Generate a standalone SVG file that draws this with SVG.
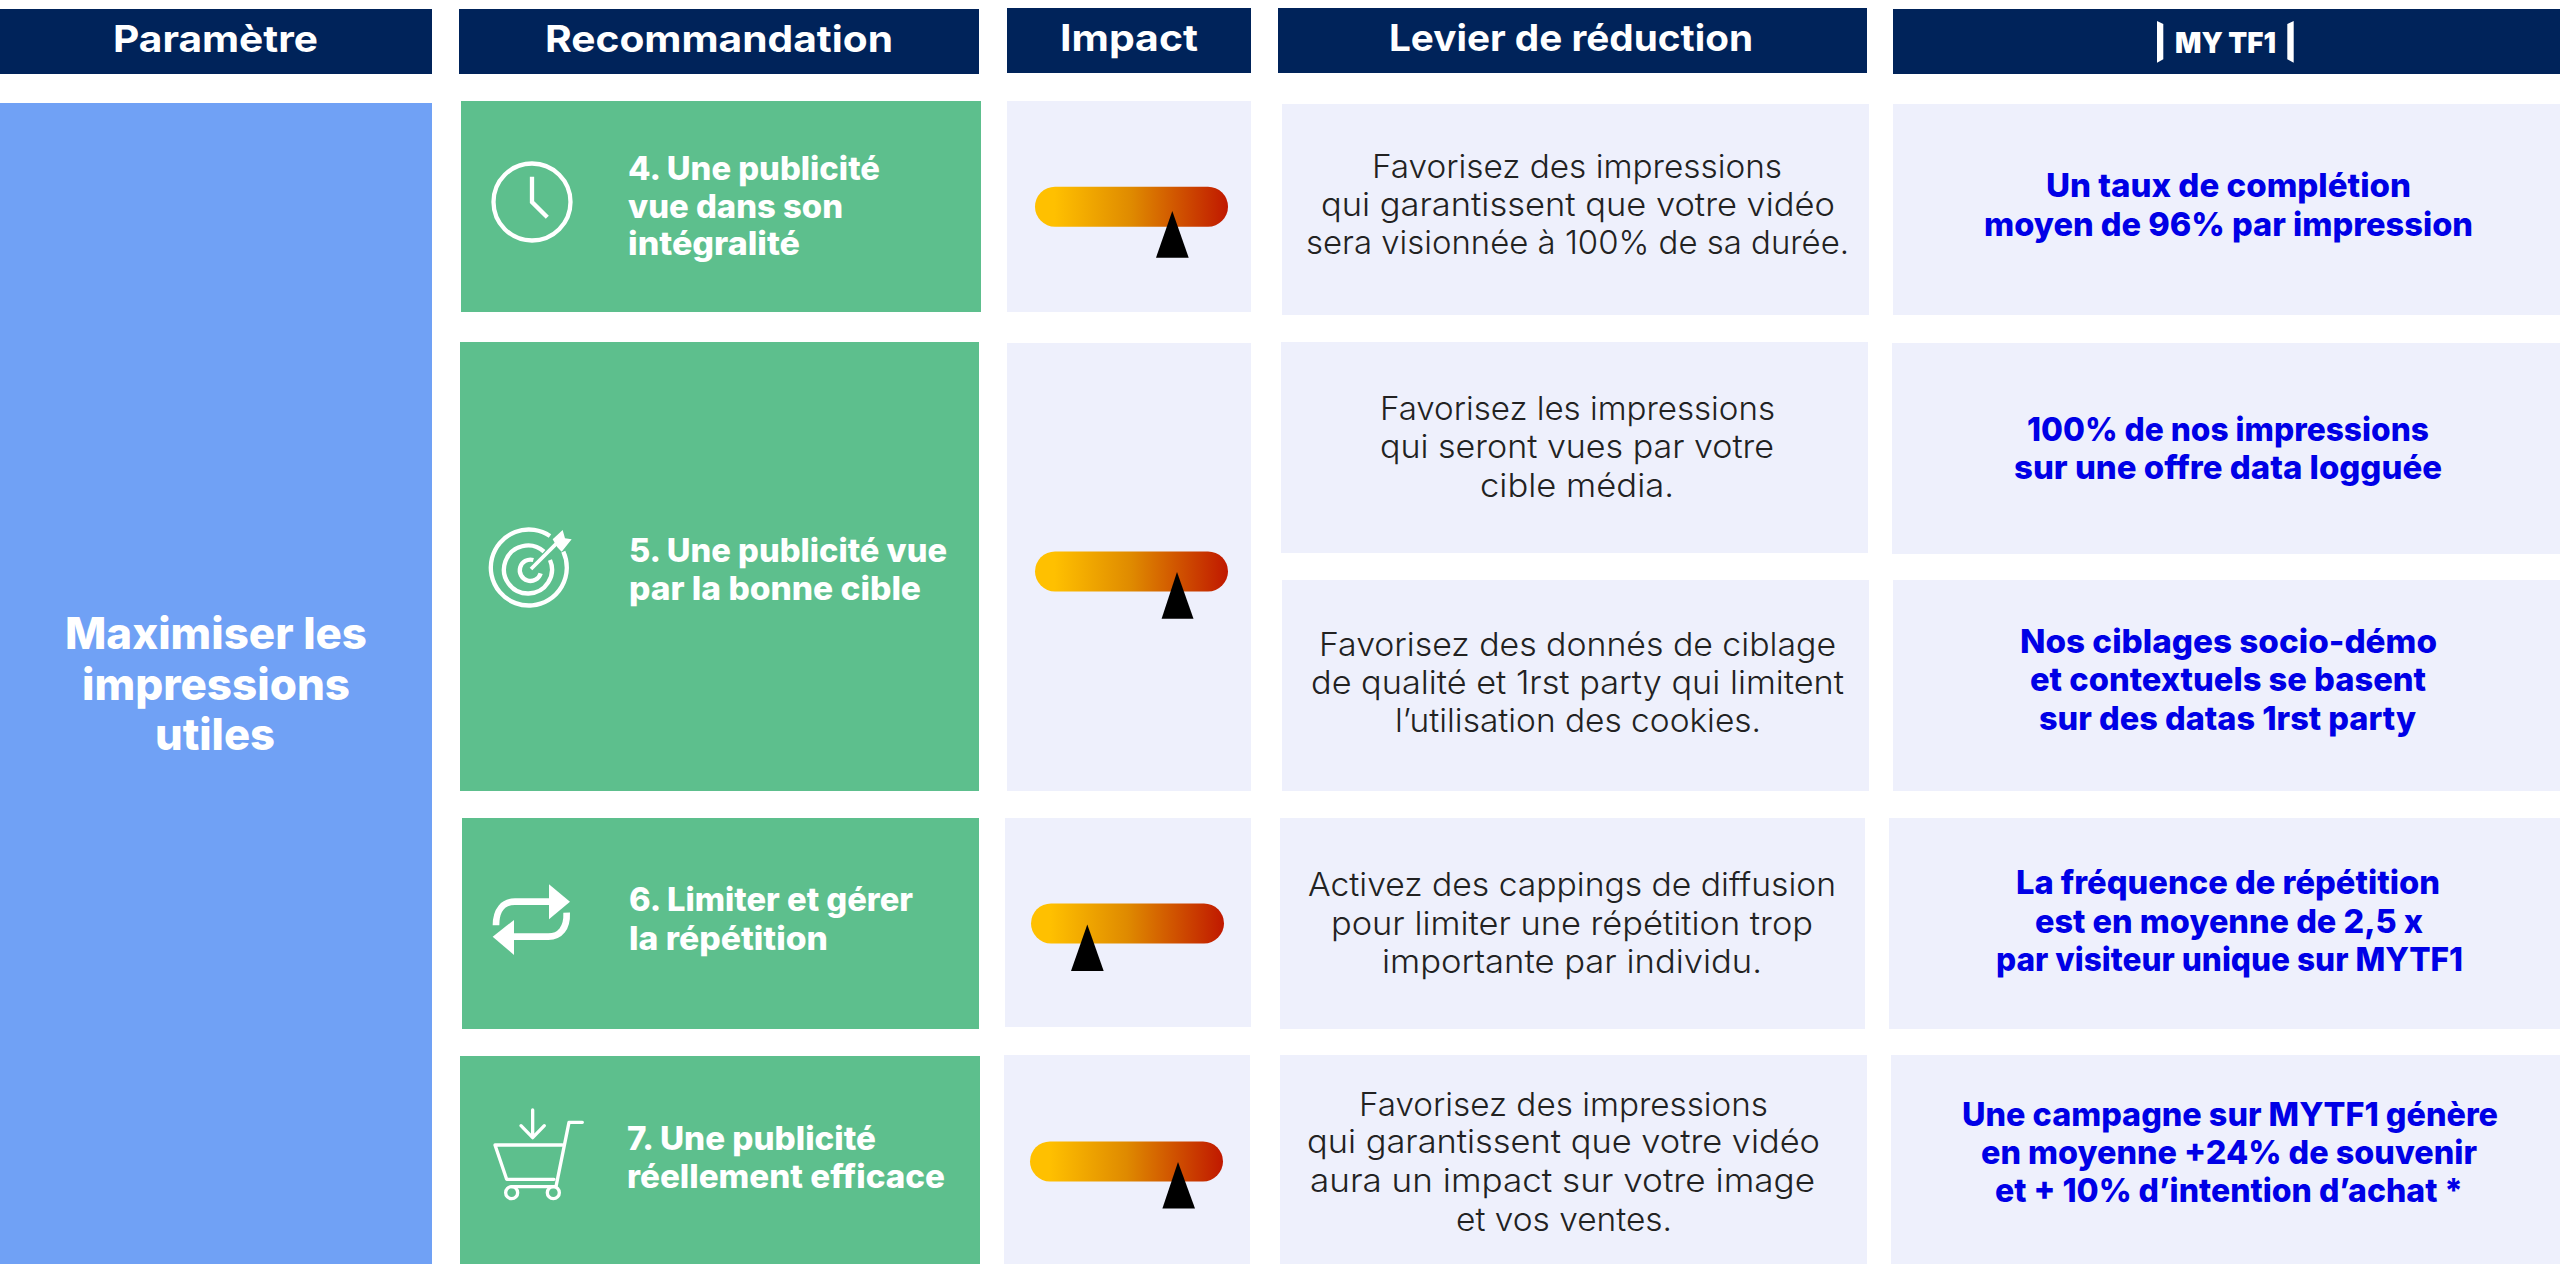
<svg xmlns="http://www.w3.org/2000/svg" width="2560" height="1264" viewBox="0 0 2560 1264">
<style>
text{font-family:"Inter","Liberation Sans",sans-serif;white-space:pre}
.h{fill:#fff;font-size:37px;font-weight:700}
.r{fill:#fff;font-size:32px;font-weight:800}
.m{fill:#fff;font-size:44px;font-weight:800}
.l{fill:#222;font-size:33px;font-weight:300}
.t{fill:#0000e6;font-size:33px;font-weight:800}
.nv{fill:#00235a}.gr{fill:#5dbf8d}.bl{fill:#70a1f5}.lt{fill:#eef0fc}
.bar{fill:url(#g)}
.ic{fill:none;stroke:#fff}
.w{fill:#fff}
</style>
<defs>
<linearGradient id="g" x1="0" y1="0" x2="1" y2="0"><stop offset="0.1" stop-color="#ffc000"/><stop offset="0.5" stop-color="#df8a00"/><stop offset="1" stop-color="#c01800"/></linearGradient>
</defs>
<rect width="2560" height="1264" fill="#fff"/>
<g id="header-parametre"><rect class="nv" x="0" y="9" width="432" height="65"/><text class="h" x="113" y="52" textLength="205" lengthAdjust="spacingAndGlyphs">Paramètre</text></g>
<g id="header-recommandation"><rect class="nv" x="459" y="9" width="520" height="65"/><text class="h" x="545" y="52" textLength="348" lengthAdjust="spacingAndGlyphs">Recommandation</text></g>
<g id="header-impact"><rect class="nv" x="1007" y="8" width="244" height="65"/><text class="h" x="1060" y="51" textLength="138" lengthAdjust="spacingAndGlyphs">Impact</text></g>
<g id="header-levier"><rect class="nv" x="1278" y="8" width="589" height="65"/><text class="h" x="1389" y="51" textLength="364" lengthAdjust="spacingAndGlyphs">Levier de réduction</text></g>
<g id="header-mytf1"><rect class="nv" x="1893" y="9" width="667" height="65"/>
<polygon class="w" points="2157,21 2163.3,24 2163.3,59.3 2157,62.7"/><polygon class="w" points="2287.3,24 2293.7,21 2293.7,62.7 2287.3,59.3"/>
<text x="2175" y="53.3" fill="#fff" font-size="29" font-weight="900" textLength="101" lengthAdjust="spacingAndGlyphs">MY TF1</text></g>

<g id="parametre"><rect class="bl" x="0" y="103" width="432" height="1161"/>
<text class="m" x="65" y="649" textLength="302" lengthAdjust="spacingAndGlyphs">Maximiser les</text>
<text class="m" x="82" y="700" textLength="268" lengthAdjust="spacingAndGlyphs">impressions</text>
<text class="m" x="155" y="750" textLength="120" lengthAdjust="spacingAndGlyphs">utiles</text></g>

<g id="reco-4"><rect class="gr" x="461" y="101" width="520" height="211"/>
<g class="ic" stroke-width="4.3"><circle cx="532" cy="202" r="38.5"/><path d="M532 176.7V202L547.3 217.3"/></g>
<text class="r" x="628" y="179.5" textLength="252" lengthAdjust="spacingAndGlyphs">4. Une publicité</text>
<text class="r" x="628" y="217.5" textLength="215" lengthAdjust="spacingAndGlyphs">vue dans son</text>
<text class="r" x="628" y="255" textLength="172" lengthAdjust="spacingAndGlyphs">intégralité</text></g>

<g id="reco-5"><rect class="gr" x="460" y="342" width="519" height="449"/>
<g transform="translate(470 510) scale(.3333)"><g class="ic" stroke-width="13">
<path d="M240 78A114 114 0 1 0 280 125"/><path d="M222 125A72 72 0 1 0 240 150"/><path d="M190 150A32 32 0 1 0 212 190"/></g>
<path class="ic" stroke-width="11" d="M183 177L262 98"/><polygon class="w" points="248,88 278,60 285,85 305,88 275,125 262,112"/></g>
<text class="r" x="629" y="562" textLength="318" lengthAdjust="spacingAndGlyphs">5. Une publicité vue</text>
<text class="r" x="629" y="600" textLength="292" lengthAdjust="spacingAndGlyphs">par la bonne cible</text></g>

<g id="reco-6"><rect class="gr" x="462" y="818" width="517" height="211"/>
<g transform="translate(470 870) scale(.3333)"><path class="ic" stroke-width="20" d="M78 166C78 120 100 95 135 95H240"/><polygon class="w" points="237,43 300,95 237,148"/>
<path class="ic" stroke-width="20" d="M290 128C292 175 270 200 235 200H130"/><polygon class="w" points="132,150 68,200 132,255"/></g>
<text class="r" x="629" y="911" textLength="284" lengthAdjust="spacingAndGlyphs">6. Limiter et gérer</text>
<text class="r" x="629" y="950" textLength="199" lengthAdjust="spacingAndGlyphs">la répétition</text></g>

<g id="reco-7"><rect class="gr" x="460" y="1056" width="520" height="208"/>
<g transform="translate(470 1090) scale(.3333)" class="ic" stroke-width="10" stroke-linecap="round" stroke-linejoin="round">
<path d="M188 60V142M153 107L188 143L223 107"/><path d="M337 97H297L258 290H125"/><path d="M277 165H75L110 268H252"/><circle cx="125" cy="308" r="18"/><circle cx="250" cy="308" r="18"/></g>
<text class="r" x="627" y="1150" textLength="249" lengthAdjust="spacingAndGlyphs">7. Une publicité</text>
<text class="r" x="627" y="1188" textLength="318" lengthAdjust="spacingAndGlyphs">réellement efficace</text></g>

<g id="impact-4"><rect class="lt" x="1007" y="101" width="244" height="211"/><rect class="bar" x="1035" y="186.7" width="193" height="40" rx="20"/><polygon points="1172.3,211 1156,257.7 1188.7,257.7"/></g>
<g id="impact-5"><rect class="lt" x="1007" y="343" width="244" height="448"/><rect class="bar" x="1035" y="551.4" width="193" height="40" rx="20"/><polygon points="1177,572 1161.6,618.8 1193.5,618.8"/></g>
<g id="impact-6"><rect class="lt" x="1005" y="818" width="246" height="209"/><rect class="bar" x="1031" y="903.4" width="193" height="40" rx="20"/><polygon points="1087.3,924.5 1071,971 1103.7,971"/></g>
<g id="impact-7"><rect class="lt" x="1004" y="1055" width="246" height="209"/><rect class="bar" x="1030" y="1141.4" width="193" height="40" rx="20"/><polygon points="1178,1162 1162.4,1208.6 1195,1208.6"/></g>

<g id="levier-4"><rect class="lt" x="1282" y="104" width="587" height="211"/>
<text class="l" x="1372" y="177.5" textLength="410" lengthAdjust="spacingAndGlyphs">Favorisez des impressions</text>
<text class="l" x="1321" y="215.5" textLength="514" lengthAdjust="spacingAndGlyphs">qui garantissent que votre vidéo</text>
<text class="l" x="1306" y="254" textLength="543" lengthAdjust="spacingAndGlyphs">sera visionnée à 100% de sa durée.</text></g>
<g id="levier-5a"><rect class="lt" x="1281" y="342" width="587" height="211"/>
<text class="l" x="1380" y="420" textLength="395" lengthAdjust="spacingAndGlyphs">Favorisez les impressions</text>
<text class="l" x="1380" y="458" textLength="394" lengthAdjust="spacingAndGlyphs">qui seront vues par votre</text>
<text class="l" x="1480" y="497" textLength="194" lengthAdjust="spacingAndGlyphs">cible média.</text></g>
<g id="levier-5b"><rect class="lt" x="1282" y="580" width="587" height="211"/>
<text class="l" x="1319" y="656" textLength="517" lengthAdjust="spacingAndGlyphs">Favorisez des donnés de ciblage</text>
<text class="l" x="1311" y="694" textLength="533" lengthAdjust="spacingAndGlyphs">de qualité et 1rst party qui limitent</text>
<text class="l" x="1395" y="732" textLength="366" lengthAdjust="spacingAndGlyphs">l’utilisation des cookies.</text></g>
<g id="levier-6"><rect class="lt" x="1280" y="818" width="585" height="211"/>
<text class="l" x="1308" y="895.5" textLength="528" lengthAdjust="spacingAndGlyphs">Activez des cappings de diffusion</text>
<text class="l" x="1331" y="934.5" textLength="482" lengthAdjust="spacingAndGlyphs">pour limiter une répétition trop</text>
<text class="l" x="1382" y="973" textLength="380" lengthAdjust="spacingAndGlyphs">importante par individu.</text></g>
<g id="levier-7"><rect class="lt" x="1280" y="1055" width="587" height="209"/>
<text class="l" x="1359" y="1115.5" textLength="409" lengthAdjust="spacingAndGlyphs">Favorisez des impressions</text>
<text class="l" x="1307" y="1153" textLength="513" lengthAdjust="spacingAndGlyphs">qui garantissent que votre vidéo</text>
<text class="l" x="1310" y="1192" textLength="505" lengthAdjust="spacingAndGlyphs">aura un impact sur votre image</text>
<text class="l" x="1456" y="1230.5" textLength="216" lengthAdjust="spacingAndGlyphs">et vos ventes.</text></g>

<g id="mytf1-4"><rect class="lt" x="1893" y="104" width="667" height="211"/>
<text class="t" x="2046" y="196.7" textLength="365" lengthAdjust="spacingAndGlyphs">Un taux de complétion</text>
<text class="t" x="1984" y="235.5" textLength="489" lengthAdjust="spacingAndGlyphs">moyen de 96% par impression</text></g>
<g id="mytf1-5a"><rect class="lt" x="1892" y="343" width="668" height="211"/>
<text class="t" x="2027" y="441" textLength="402" lengthAdjust="spacingAndGlyphs">100% de nos impressions</text>
<text class="t" x="2014" y="479" textLength="428" lengthAdjust="spacingAndGlyphs">sur une offre data logguée</text></g>
<g id="mytf1-5b"><rect class="lt" x="1893" y="580" width="667" height="211"/>
<text class="t" x="2020" y="652.5" textLength="417" lengthAdjust="spacingAndGlyphs">Nos ciblages socio-démo</text>
<text class="t" x="2030" y="691" textLength="396" lengthAdjust="spacingAndGlyphs">et contextuels se basent</text>
<text class="t" x="2039" y="729.5" textLength="377" lengthAdjust="spacingAndGlyphs">sur des datas 1rst party</text></g>
<g id="mytf1-6"><rect class="lt" x="1889" y="818" width="671" height="211"/>
<text class="t" x="2016" y="894" textLength="424" lengthAdjust="spacingAndGlyphs">La fréquence de répétition</text>
<text class="t" x="2035" y="933" textLength="388" lengthAdjust="spacingAndGlyphs">est en moyenne de 2,5 x</text>
<text class="t" x="1996" y="971" textLength="467" lengthAdjust="spacingAndGlyphs">par visiteur unique sur MYTF1</text></g>
<g id="mytf1-7"><rect class="lt" x="1891" y="1055" width="669" height="209"/>
<text class="t" x="1962" y="1125.5" textLength="536" lengthAdjust="spacingAndGlyphs">Une campagne sur MYTF1 génère</text>
<text class="t" x="1981" y="1163.7" textLength="496" lengthAdjust="spacingAndGlyphs">en moyenne +24% de souvenir</text>
<text class="t" x="1995" y="1202" textLength="468" lengthAdjust="spacingAndGlyphs">et + 10% d’intention d’achat *</text></g>
</svg>
